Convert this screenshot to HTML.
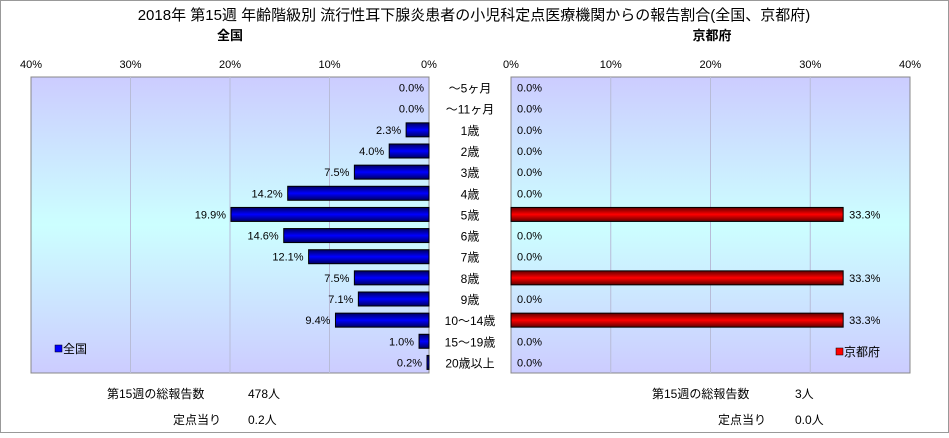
<!DOCTYPE html>
<html><head><meta charset="utf-8"><style>
body{margin:0;width:949px;height:433px;overflow:hidden;background:#fff;font-family:"Liberation Sans","Noto Sans CJK JP",sans-serif;}
svg text{font-family:"Liberation Sans","Noto Sans CJK JP",sans-serif;}
</style></head><body>
<svg id="chart" width="949" height="433" xmlns="http://www.w3.org/2000/svg">
<defs>
<linearGradient id="bg" x1="0" y1="0" x2="0" y2="1">
<stop offset="0" stop-color="#ccccff"/><stop offset="0.5" stop-color="#ccffff"/><stop offset="1" stop-color="#ccccff"/></linearGradient>
<linearGradient id="gb" x1="0" y1="0" x2="0" y2="1">
<stop offset="0" stop-color="#000060"/><stop offset="0.5" stop-color="#0000ff"/><stop offset="1" stop-color="#000060"/></linearGradient>
<linearGradient id="gr" x1="0" y1="0" x2="0" y2="1">
<stop offset="0" stop-color="#600000"/><stop offset="0.5" stop-color="#ff0000"/><stop offset="1" stop-color="#600000"/></linearGradient>
</defs>
<rect x="0.5" y="0.5" width="948" height="432" fill="none" stroke="#999"/>
<text x="474" y="20" font-size="15" text-anchor="middle">2018年 第15週 年齢階級別 流行性耳下腺炎患者の小児科定点医療機関からの報告割合(全国、京都府)</text>
<text x="230" y="40" font-size="13" font-weight="bold" text-anchor="middle">全国</text>
<text x="712" y="40" font-size="13" font-weight="bold" text-anchor="middle">京都府</text>
<rect x="31" y="77" width="398" height="296" fill="url(#bg)" stroke="#888"/>
<rect x="511" y="77" width="399" height="296" fill="url(#bg)" stroke="#888"/>
<g id="g"></g>
<rect x="55" y="345" width="7" height="7" fill="#0000ff" stroke="#000" stroke-width="0.5"/>
<text x="63" y="353" font-size="12">全国</text>
<rect x="836" y="348" width="7" height="7" fill="#ff0000" stroke="#000" stroke-width="0.5"/>
<text x="844" y="356" font-size="12">京都府</text>
<text x="107" y="398" font-size="12">第15週の総報告数</text>
<text x="248" y="398" font-size="12">478人</text>
<text x="173" y="424" font-size="12">定点当り</text>
<text x="248" y="424" font-size="12">0.2人</text>
<text x="652" y="398" font-size="12">第15週の総報告数</text>
<text x="795" y="398" font-size="12">3人</text>
<text x="718" y="424" font-size="12">定点当り</text>
<text x="795" y="424" font-size="12">0.0人</text>
</svg>
<script>
const categories=["～5ヶ月","～11ヶ月","1歳","2歳","3歳","4歳","5歳","6歳","7歳","8歳","9歳","10～14歳","15～19歳","20歳以上"];
categories.splice(13,0);
const cats=["～5ヶ月","～11ヶ月","1歳","2歳","3歳","4歳","5歳","6歳","7歳","8歳","9歳","10～14歳","15～19歳","20歳以上"];
const nationalValues=[0.0,0.0,2.3,4.0,7.5,14.2,19.9,14.6,12.1,7.5,7.1,9.4,1.0,0.2];
const kyotoValues=[0.0,0.0,0.0,0.0,0.0,0.0,33.3,0.0,0.0,33.3,0.0,33.3,0.0,0.0];
const tickValues=[0,10,20,30,40];
const NS="http://www.w3.org/2000/svg",g=document.getElementById('g');
const top0=77,plotH=296,n=cats.length,rowH=plotH/n;
// 15 rows in original: rows are spaced over 15 slots? use n rows
const L0=429,R0=511,pxPer=398/40;
const xl=v=>L0-v*pxPer, xr=v=>R0+v*(399/40);
const yc=i=>top0+rowH*(i+0.5);
function el(t,a,txt){const e=document.createElementNS(NS,t);for(const k in a)e.setAttribute(k,a[k]);if(txt!==undefined)e.textContent=txt;g.appendChild(e);return e;}
tickValues.forEach(t=>{
 if(t>0&&t<40){let e=el('line',{x1:xl(t),x2:xl(t),y1:top0,y2:top0+plotH,stroke:'#b8bcd8'});
 
 e=el('line',{x1:xr(t),x2:xr(t),y1:top0,y2:top0+plotH,stroke:'#b8bcd8'});
 }
 let e=el('text',{x:xl(t),y:68,'font-size':11,'text-anchor':'middle'},t+'%');
 
 e=el('text',{x:xr(t),y:68,'font-size':11,'text-anchor':'middle'},t+'%');
 
});
cats.forEach((c,i)=>{
 const y=yc(i);
 let e=el('text',{x:470,y:y+5,'font-size':12,'text-anchor':'middle'},c);
 
 const v=nationalValues[i];
 if(v>0){e=el('rect',{x:xl(v),y:y-7,width:L0-xl(v),height:14,fill:'url(#gb)',stroke:'#000'});
 }
 e=el('text',{x:xl(v)-5,y:y+4,'font-size':11,'text-anchor':'end'},v.toFixed(1)+'%');
 
 const k=kyotoValues[i];
 if(k>0){e=el('rect',{x:R0,y:y-7,width:xr(k)-R0,height:14,fill:'url(#gr)',stroke:'#000'});
 }
 e=el('text',{x:xr(k)+6,y:y+4,'font-size':11},k.toFixed(1)+'%');
 
});
</script>
</body></html>
